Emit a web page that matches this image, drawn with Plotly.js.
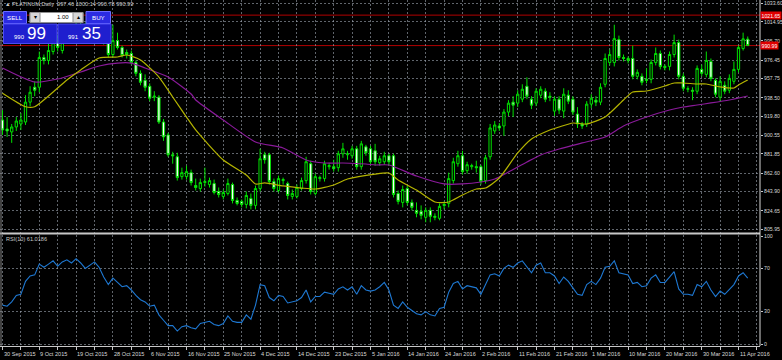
<!DOCTYPE html>
<html><head><meta charset="utf-8">
<script src="https://cdn.plot.ly/plotly-3.0.1.min.js"></script>
<style>html,body{margin:0;padding:0;background:#000;}#chart{width:782px;height:360px;}</style>
</head><body><div id="chart"></div>
<script>
// ---- candle data (PLATINUM, Daily) ----
const opens = [916,907,904,909,912,914,934,949,949,979,976,985,994,986,998,1006,1002,1012,1008,1001,1009,1016,1010,994,982,996,989,984,983,974,963,956,950,939,939,914,901,881,879,859,859,863,850,847,853,851,852,844,839,842,851,835,834,831,837,830,847,881,881,854,845,855,852,839,839,847,855,872,842,857,857,869,869,868,882,881,880,887,869,889,887,885,873,874,880,880,842,833,847,833,825,824,818,825,819,817,831,832,855,872,880,865,869,869,869,855,879,905,910,910,924,934,933,937,950,937,933,941,945,940,925,937,925,941,937,922,912,912,932,936,934,952,974,974,997,979,978,978,960,960,957,957,974,983,970,970,982,994,960,947,946,945,967,962,975,956,939,951,946,955,967,988,997.46];
const highs = [926,919,912,919,923,941,950,955,985,982,993,1000,1002,1004,1010,1012,1015,1018,1014,1011,1020,1024,1013,1000,1012,1004,991,987,986,976,966,962,953,945,941,917,903,884,883,868,870,866,857,857,868,858,856,848,846,857,853,838,836,844,842,850,887,884,883,857,860,858,854,846,851,858,879,875,862,860,875,873,876,885,893,885,890,890,895,891,890,892,880,884,882,882,845,850,850,836,833,830,828,828,822,832,834,863,878,885,885,874,872,875,871,881,912,915,913,927,936,940,946,952,959,940,948,950,948,944,940,940,948,946,940,929,914,935,942,940,953,983,987,1012,1001,982,980,991,967,963,968,977,989,986,972,985,1002,997,963,950,949,971,972,985,978,958,960,955,962,975,991,1004,1000.14];
const lows = [901,899,893,905,906,911,930,940,944,972,972,982,985,983,994,999,1000,1004,998,997,1005,1007,992,979,979,987,979,978,972,960,951,945,935,935,912,895,879,872,855,856,856,850,845,844,849,848,841,838,836,840,832,830,828,827,826,826,844,872,851,844,843,851,836,836,837,845,852,841,840,854,854,866,864,864,878,876,877,866,866,880,871,870,870,871,870,838,831,828,830,825,818,816,813,813,815,815,826,828,852,869,861,862,866,863,851,852,876,902,905,900,920,919,929,934,937,927,930,938,934,935,920,922,918,932,921,908,907,909,928,930,931,949,971,970,976,975,973,957,957,951,953,953,971,967,966,966,979,957,945,944,936,942,960,959,955,939,935,942,943,952,964,986,990.78];
const closes = [906,905,909,915,916,934,944,946,979,976,986,995,989,998,1006,1002,1012,1008,1001,1009,1016,1010,995,982,996,989,981,982,974,963,954,949,938,940,914,899,881,880,858,863,864,853,848,853,854,855,843,841,843,852,835,832,831,840,830,847,877,876,854,847,857,856,840,842,848,855,874,844,859,858,872,870,867,882,887,882,887,869,892,883,874,874,877,880,874,841,834,846,833,828,822,820,825,819,818,829,830,857,874,880,864,871,870,868,854,878,908,911,908,924,933,931,942,947,940,931,945,947,937,939,937,926,942,935,924,912,910,932,938,934,949,978,982,998,979,978,976,960,964,954,956,974,983,970,969,982,994,960,948,947.5,945,968,963,976,958,942,955,945,958,967,989,997.8,990.99];

// ---- moving averages ----
const maFastBars = [0,5,7,14,17,21,25,27,30,34,37,40,42,48,53,55,57,61,65,68,72,75,81,84,86,90,94,97,100,103,105,108,112,115,119,121,124,127,131,135,137,140,144,146,148,151,153,156,159,160,162];
const maFast = [943,929.4,929.4,956.3,966.4,978.5,979.5,981.5,976.5,959.3,939.2,919,906,875.7,860.6,851.6,852.6,849.6,847.5,846.5,850.6,856.6,861.6,862.6,855.6,845.5,833.4,833.4,840.5,846.5,847.5,857.6,882.8,896.9,906,909,913,912,919,936.2,944.2,945.2,950.3,953.3,953.3,952.3,952.3,949.3,948.3,951.3,956.3];
const maSlowBars = [0,7,12,17,21,25,28,31,36,41,42,48,55,61,66,70,74,79,81,84,90,96,100,104,107,110,114,117,121,126,131,135,140,145,148,151,154,158,162];
const maSlow = [968.4,954.3,957.3,964.4,970.4,973.4,973.4,968.4,959.3,942.2,936.2,916,893.9,887.8,875.7,872.7,872.7,871.7,870.7,870.7,859.6,851.6,851.6,853.6,856.6,863.6,873.7,880.8,886.8,892.9,898.9,910,919,926.1,929.1,931.1,933.2,936.2,940.2];

// ---- RSI(10), one value per bar ----
const rsiVals = [36,35,39,45,46,58,63,64,74,71,74,77,72,76,78,75,79,75,70,73,
  76,71,62,55,61,57,53,54,50,45,41,39,35,36,27,22,17,17,12,16,
  17,15,14,19,20,21,18,17,19,26,21,20,20,27,23,36,55,54,43,40,
  45,44,38,39,40,43,50,39,44,44,48,47,46,51,53,50,53,46,54,50,
  49,50,53,57,50,36,33,39,34,31,28,27,30,27,26,33,34,48,56,58,
  51,54,53,52,46,55,64,65,63,70,73,71,75,77,71,66,73,75,66,66,
  63,56,62,58,52,46,45,55,58,55,61,71,72,77,66,65,64,56,57,53,
  54,61,64,57,57,62,67,51,46,46,45,55,53,58,50,44,49,46,51,55,
  63,66,61.02];

// ---- axis labels ----
const priceTicks = [1033.60,1014.95,995.70,976.45,957.75,938.50,919.80,900.55,881.85,862.60,843.90,824.65,805.95];
const rsiTicks = [0,30,70,100];
const dateLabels = ['30 Sep 2015','9 Oct 2015','19 Oct 2015','28 Oct 2015','6 Nov 2015','16 Nov 2015','25 Nov 2015','4 Dec 2015','14 Dec 2015','23 Dec 2015','5 Jan 2016','14 Jan 2016','24 Jan 2016','2 Feb 2016','11 Feb 2016','21 Feb 2016','1 Mar 2016','10 Mar 2016','20 Mar 2016','30 Mar 2016','11 Apr 2016'];
const dateLabelBars = [0,8,16,24,32,40,48,56,64,72,80,88,96,104,112,120,128,136,144,152,160];
const hLines = [1021.65, 990.99];
const hLineText = ['1021.65','990.99'];

const bars = closes.map((_, k) => k);
const gridBars = [];
for (let b = 0; b <= 164; b += 4) gridBars.push(b);

const FONT = 'Liberation Sans, Arial, sans-serif';
const PW = 760, PH = 346;
const fx = p => p / PW;
const fy = p => (PH - p) / PH;
const GRID = 'rgba(160,168,180,0.6)';
const LIME = '#00e000';
const TS = 5.2;

const traces = [
  {type:'candlestick', x:bars, open:opens, high:highs, low:lows, close:closes,
   xaxis:'x', yaxis:'y', whiskerwidth:0,
   increasing:{line:{color:LIME,width:1}, fillcolor:'#000000'},
   decreasing:{line:{color:LIME,width:1}, fillcolor:'#ffffff'},
   hoverinfo:'skip', showlegend:false},
  {type:'scatter', mode:'lines', x:maSlowBars, y:maSlow, xaxis:'x', yaxis:'y',
   line:{color:'#8a1a9a', width:1.2, shape:'spline', smoothing:0.6}, hoverinfo:'skip', showlegend:false},
  {type:'scatter', mode:'lines', x:maFastBars, y:maFast, xaxis:'x', yaxis:'y',
   line:{color:'#b4b400', width:1.2, shape:'spline', smoothing:0.6}, hoverinfo:'skip', showlegend:false},
  {type:'scatter', mode:'lines', x:bars, y:rsiVals, xaxis:'x', yaxis:'y2',
   line:{color:'#1e78d2', width:1.1}, hoverinfo:'skip', showlegend:false}
];

const shapes = [];
hLines.forEach(v => shapes.push({type:'line', xref:'paper', x0:0, x1:1, yref:'y', y0:v, y1:v,
  line:{color:'#b00000', width:1}, layer:'between'}));
shapes.push({type:'line', xref:'paper', x0:0, x1:1, yref:'paper', y0:fy(233.5), y1:fy(233.5), line:{color:'#c8c8c8', width:2}, layer:'above'});
shapes.push({type:'line', xref:'paper', x0:1, x1:1, yref:'paper', y0:0, y1:1, line:{color:'#d8d8d8', width:1}, layer:'above'});
shapes.push({type:'line', xref:'paper', x0:fx(1), x1:fx(1), yref:'paper', y0:0, y1:1, line:{color:'#808080', width:1}, layer:'above'});
const rect = (x0,y0,x1,y1,fill,line) => shapes.push({type:'rect', xref:'paper', yref:'paper',
  x0:fx(x0), x1:fx(x1), y0:fy(y1), y1:fy(y0), fillcolor:fill, line:{color:line, width:1}, layer:'above'});
rect(3.5,11.5,26.5,23.5,'#2b2be2','#6a6aff');
rect(86,11.5,110.5,23.5,'#2b2be2','#6a6aff');
rect(30,12.5,83,22.5,'#ffffff','#909090');
rect(30,12.5,40,22.5,'#d6d6d6','#909090');
rect(73,12.5,83,22.5,'#d6d6d6','#909090');
rect(3.5,24,57,43.5,'#1f1fcf','#4b4bf2');
rect(58,24,111,43.5,'#1f1fcf','#4b4bf2');

const annotations = [];
const txt = (x,y,text,size,color,anchor) => annotations.push({xref:'paper', yref:'paper', x:fx(x), y:fy(y),
  text:text, showarrow:false, xanchor:anchor||'left', yanchor:'middle',
  font:{family:FONT, size:size, color:color}});
txt(3,4.5,'\u25B2 PLATINUM,Daily  997.46 1000.14 990.78 990.99',5.6,'#c8c8c8');
txt(15,17.5,'SELL',6.2,'#ffffff','center');
txt(98,17.5,'BUY',6.2,'#ffffff','center');
txt(71,17.5,'1.00',6,'#000000','right');
txt(35,17.5,'\u25BE',6,'#000000','center');
txt(78,17.5,'\u25B4',6,'#000000','center');
txt(12,37,'990',6,'#ffffff');
txt(25,33.5,'99',17,'#ffffff');
txt(66,37,'991',6,'#ffffff');
txt(80,33.5,'35',17,'#ffffff');
txt(4,239,'RSI(10) 61.0186',5.6,'#c8c8c8');
dateLabels.forEach((t,k) => annotations.push({xref:'x', yref:'paper', x:dateLabelBars[k], y:0,
  text:t, showarrow:false, xanchor:'left', yanchor:'top', xshift:-1, yshift:-3,
  font:{family:FONT, size:5.6, color:'#d8d8d8'}}));
hLines.forEach((v,k) => annotations.push({xref:'paper', yref:'y', x:1, y:v, text:hLineText[k],
  showarrow:false, xanchor:'left', yanchor:'middle', xshift:0, bgcolor:'#e00000', borderpad:0.5,
  font:{family:FONT, size:TS, color:'#ffffff'}}));

const axFont = {family:FONT, size:TS, color:'#d8d8d8'};
const layout = {
  width:782, height:360, margin:{l:0, r:22, t:0, b:14},
  paper_bgcolor:'#000000', plot_bgcolor:'#000000', showlegend:false,
  font:{family:FONT, size:5.6, color:'#d8d8d8'},
  xaxis:{range:[-0.543,164.67], anchor:'y2', tickvals:gridBars, showticklabels:false,
    ticks:'outside', ticklen:3, tickcolor:'#c8c8c8', showgrid:true, gridcolor:GRID, griddash:'2px,2px',
    showline:true, linecolor:'#c8c8c8', linewidth:1, zeroline:false, rangeslider:{visible:false}, fixedrange:true},
  yaxis:{domain:[0.3266,1], range:[802.2,1036.9], side:'right', tickvals:priceTicks,
    ticktext:priceTicks.map(v=>v.toFixed(2)), ticks:'outside', ticklen:2, tickcolor:'#c8c8c8',
    ticklabelstandoff:0,
    showgrid:true, gridcolor:GRID, griddash:'2px,2px', zeroline:false, showline:false, fixedrange:true,
    tickfont:axFont},
  yaxis2:{domain:[0,0.3208], range:[-1.85,100.93], side:'right', tickvals:rsiTicks,
    ticktext:rsiTicks.map(String), ticks:'outside', ticklen:2, tickcolor:'#c8c8c8',
    ticklabelstandoff:0,
    showgrid:true, gridcolor:GRID, griddash:'2px,2px', zeroline:false, showline:false, fixedrange:true,
    tickfont:axFont},
  boxgap:0.3,
  shapes:shapes, annotations:annotations
};
Plotly.newPlot('chart', traces, layout, {displayModeBar:false, staticPlot:true});
</script></body></html>
